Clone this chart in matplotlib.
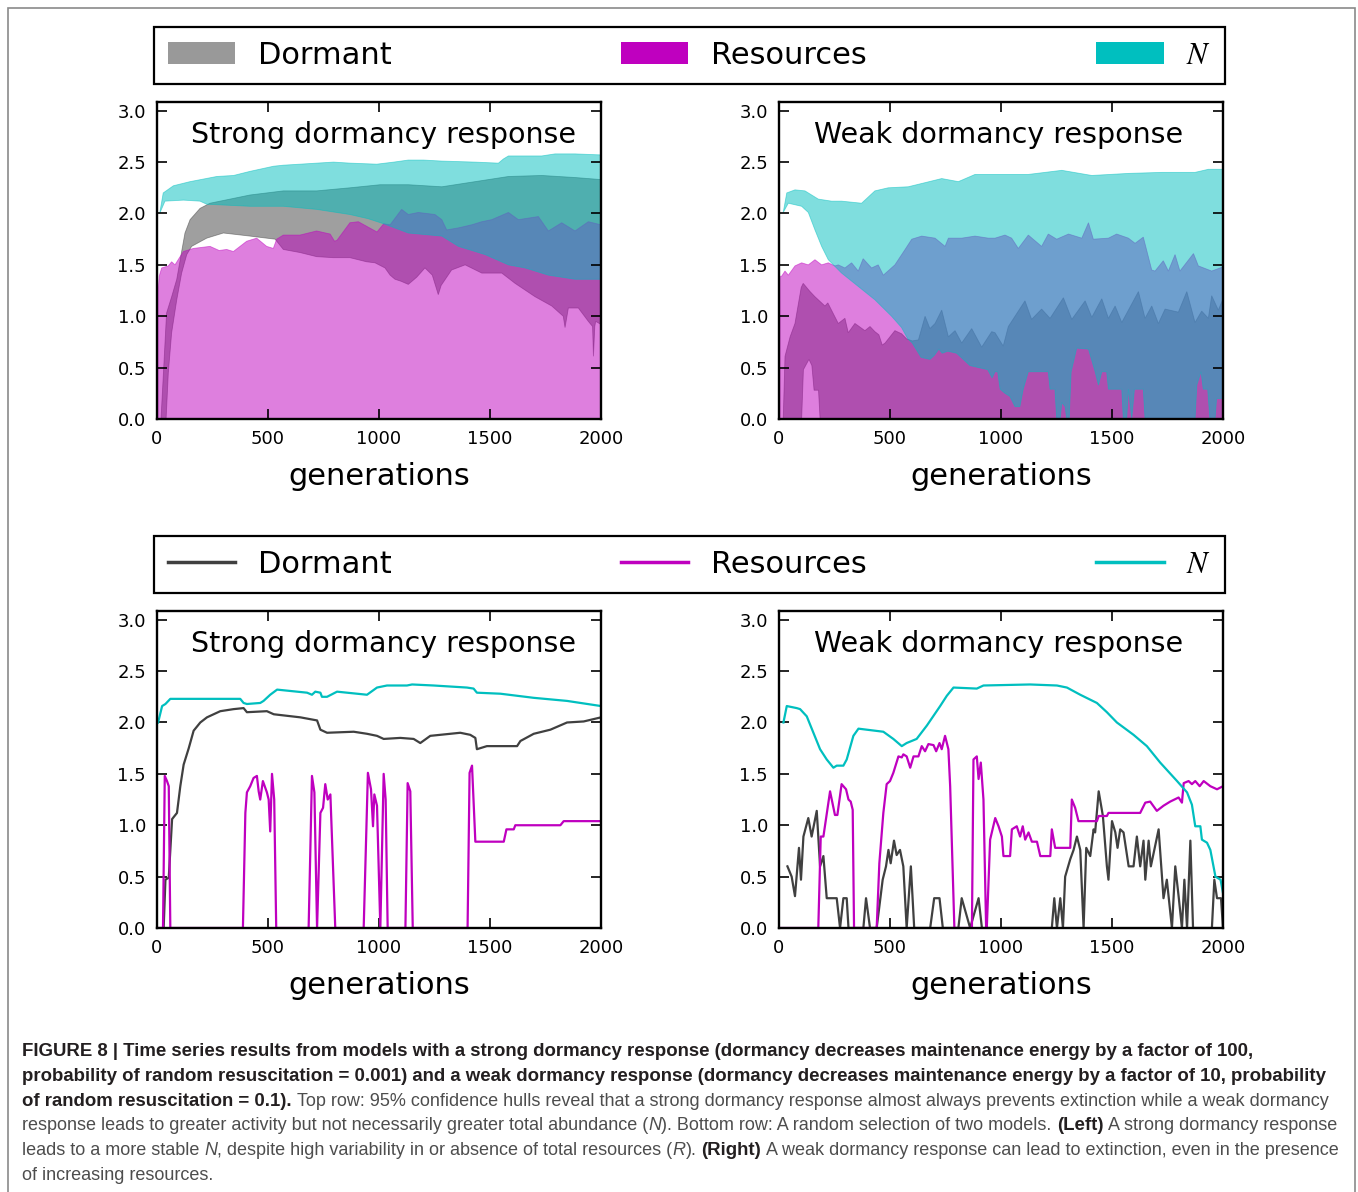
import matplotlib
matplotlib.use("Agg")
import matplotlib.pyplot as plt
from matplotlib.patches import Patch, Rectangle
from matplotlib.lines import Line2D
from matplotlib.ticker import FormatStrFormatter

plt.rcParams["font.family"] = "DejaVu Sans"
plt.rcParams["mathtext.fontset"] = "stix"

W, H = 1358, 1192

# ── Colours ───────────────────────────────────────────────────────────────────
DORM = (0.25, 0.25, 0.25)
RES = (0.75, 0.0, 0.75)
NCOL = (0.0, 0.75, 0.75)
CAP_DARK = "#231f20"
CAP_GREY = "#4d4d4d"

# ── Top row: 95% hulls, strong dormancy ───────────────────────────────────────
S_N_HI_X = [12, 28, 74, 149, 269, 345, 419, 525, 569, 645, 719, 795, 870, 990,
            1066, 1132, 1200, 1283, 1433, 1538, 1560, 1583, 1733, 1793, 1883, 2000]
S_N_HI_Y = [2.00, 2.20, 2.27, 2.31, 2.36, 2.37, 2.41, 2.46, 2.47, 2.48, 2.49, 2.50, 2.49, 2.48,
            2.50, 2.52, 2.52, 2.51, 2.50, 2.49, 2.53, 2.56, 2.56, 2.58, 2.58, 2.57]
S_N_LO_X = [12, 36, 119, 194, 224, 419, 569, 719, 869, 950, 1021, 1132, 1283, 1358,
            1478, 1583, 1658, 1763, 1883, 2000]
S_N_LO_Y = [2.00, 2.12, 2.13, 2.12, 2.09, 2.07, 2.07, 2.04, 1.99, 1.95, 1.90, 1.81, 1.78, 1.68,
            1.60, 1.50, 1.47, 1.40, 1.36, 1.36]
S_D_HI_X = [18, 29, 43, 66, 89, 111, 126, 149, 194, 239, 419, 569, 719, 869, 1005, 1132,
            1283, 1433, 1583, 1733, 1883, 2000]
S_D_HI_Y = [0.00, 0.45, 1.03, 1.19, 1.36, 1.63, 1.81, 1.94, 2.05, 2.10, 2.18, 2.22, 2.22, 2.25,
            2.28, 2.28, 2.26, 2.31, 2.36, 2.37, 2.35, 2.33]
S_D_LO_X = [41, 51, 66, 89, 111, 134, 156, 224, 299, 419, 532, 569, 644, 719, 794, 869, 944,
            982, 1027, 1050, 1072, 1100, 1132, 1170, 1207, 1240, 1260, 1267, 1280, 1327, 1388,
            1463, 1553, 1613, 1703, 1778, 1830, 1838, 1853, 1898, 1943, 1962, 1966, 1972, 1976, 2000]
S_D_LO_Y = [0.00, 0.45, 0.84, 1.16, 1.42, 1.60, 1.68, 1.76, 1.81, 1.78, 1.75, 1.65, 1.62, 1.58,
            1.57, 1.57, 1.53, 1.52, 1.47, 1.40, 1.36, 1.34, 1.31, 1.38, 1.47, 1.40, 1.26, 1.21,
            1.30, 1.45, 1.50, 1.42, 1.42, 1.32, 1.19, 1.10, 1.00, 0.89, 1.08, 1.08, 0.95, 0.90,
            0.61, 0.90, 0.95, 0.92]
S_R_HI_X = [5, 6, 10, 21, 51, 66, 81, 104, 119, 164, 239, 280, 314, 344, 404, 449, 494, 524,
            539, 569, 644, 719, 780, 800, 811, 869, 907, 991, 1021, 1050, 1102, 1132, 1177,
            1252, 1283, 1305, 1358, 1418, 1463, 1508, 1583, 1628, 1718, 1763, 1823, 1883, 1943, 2000]
S_R_HI_Y = [0.00, 1.27, 1.39, 1.47, 1.49, 1.53, 1.50, 1.58, 1.63, 1.66, 1.68, 1.64, 1.65, 1.63,
            1.73, 1.76, 1.68, 1.66, 1.75, 1.79, 1.79, 1.83, 1.80, 1.73, 1.74, 1.91, 1.92, 1.82,
            1.90, 1.89, 2.04, 1.99, 2.01, 1.99, 1.94, 1.84, 1.86, 1.89, 1.92, 1.94, 2.01, 1.94,
            1.97, 1.83, 1.91, 1.83, 1.92, 1.89]
S_R_LO_X = [5, 2000]
S_R_LO_Y = [0.00, 0.00]

# ── Top row: 95% hulls, weak dormancy ─────────────────────────────────────────
W_N_HI_X = [19, 35, 72, 117, 177, 237, 282, 372, 432, 492, 582, 658, 733, 808, 883, 1018,
            1123, 1274, 1409, 1574, 1724, 1874, 1934, 2000]
W_N_HI_Y = [2.01, 2.20, 2.23, 2.22, 2.14, 2.12, 2.12, 2.10, 2.22, 2.25, 2.26, 2.30, 2.34, 2.31,
            2.38, 2.38, 2.38, 2.42, 2.37, 2.39, 2.40, 2.40, 2.43, 2.43]
W_N_LO_X = [19, 42, 102, 132, 162, 192, 222, 282, 357, 432, 507, 552, 580, 600, 640, 680, 700,
            720, 735, 760, 800, 830, 860, 900, 940, 960, 973, 985, 996, 1018, 1040, 1063, 1085,
            1100, 1123, 1213, 1221, 1243, 1251, 1266, 1274, 1289, 1296, 1307, 1316, 1341, 1394,
            1424, 1439, 1454, 1476, 1484, 1544, 1551, 1566, 1574, 1589, 1601, 1641, 1649, 1874,
            1882, 1901, 1911, 1931, 1941, 1964, 1971, 2000]
W_N_LO_Y = [2.01, 2.10, 2.07, 2.01, 1.84, 1.68, 1.55, 1.42, 1.29, 1.16, 1.00, 0.89, 0.78, 0.74,
            0.60, 0.58, 0.62, 0.68, 0.64, 0.66, 0.64, 0.58, 0.52, 0.50, 0.48, 0.40, 0.46, 0.46,
            0.29, 0.25, 0.22, 0.12, 0.12, 0.29, 0.46, 0.46, 0.29, 0.29, 0.00, 0.00, 0.16, 0.12,
            0.00, 0.00, 0.46, 0.69, 0.68, 0.46, 0.33, 0.46, 0.46, 0.29, 0.29, 0.00, 0.00, 0.29,
            0.00, 0.29, 0.29, 0.00, 0.00, 0.33, 0.46, 0.29, 0.29, 0.00, 0.00, 0.20, 0.20]
W_D_HI_X = [19, 27, 50, 72, 100, 109, 140, 162, 207, 220, 267, 297, 312, 342, 387, 410, 432,
            450, 465, 478, 500, 522, 552, 575, 600, 628, 658, 680, 703, 733, 763, 793, 823, 868,
            913, 958, 973, 1010, 1033, 1078, 1108, 1138, 1183, 1221, 1281, 1319, 1379, 1409,
            1454, 1484, 1514, 1544, 1574, 1619, 1649, 1679, 1709, 1739, 1799, 1837, 1874, 1904,
            1934, 1949, 1979, 2000]
W_D_HI_Y = [0.00, 0.61, 0.80, 0.93, 1.28, 1.32, 1.24, 1.19, 1.10, 1.13, 0.93, 0.98, 0.84, 0.93,
            0.86, 0.90, 0.85, 0.82, 0.72, 0.74, 0.80, 0.86, 0.83, 0.78, 0.76, 0.77, 1.00, 0.88,
            0.93, 1.06, 0.80, 0.86, 0.74, 0.88, 0.70, 0.85, 0.84, 0.71, 0.90, 1.05, 1.15, 0.97,
            1.07, 0.98, 1.18, 0.97, 1.15, 0.99, 1.17, 0.98, 1.10, 0.94, 1.06, 1.24, 0.98, 1.10,
            0.93, 1.07, 1.04, 1.24, 0.94, 1.05, 0.98, 1.20, 1.06, 1.17]
W_D_LO_X = [19, 102, 110, 135, 148, 158, 178, 185, 2000]
W_D_LO_Y = [0.00, 0.00, 0.48, 0.58, 0.52, 0.28, 0.28, 0.00, 0.00]
W_R_HI_X = [5, 7, 12, 27, 42, 72, 102, 132, 162, 192, 222, 252, 267, 297, 327, 357, 379, 417,
            447, 470, 522, 568, 598, 643, 703, 748, 763, 823, 883, 943, 973, 1018, 1048, 1078,
            1123, 1183, 1213, 1251, 1304, 1364, 1394, 1416, 1484, 1521, 1574, 1604, 1641, 1679,
            1694, 1731, 1754, 1784, 1806, 1867, 1889, 1949, 2000]
W_R_HI_Y = [0.00, 1.39, 1.39, 1.44, 1.40, 1.49, 1.52, 1.50, 1.55, 1.50, 1.52, 1.49, 1.50, 1.47,
            1.52, 1.44, 1.56, 1.47, 1.50, 1.40, 1.50, 1.65, 1.75, 1.78, 1.76, 1.68, 1.76, 1.76,
            1.78, 1.76, 1.76, 1.79, 1.76, 1.66, 1.79, 1.68, 1.80, 1.75, 1.80, 1.76, 1.91, 1.75,
            1.76, 1.80, 1.76, 1.71, 1.77, 1.45, 1.44, 1.54, 1.44, 1.60, 1.44, 1.61, 1.49, 1.44, 1.48]
W_R_LO_X = [5, 2000]
W_R_LO_Y = [0.00, 0.00]

# ── Bottom row: one random model each ─────────────────────────────────────────
SL_N_X = [5, 23, 38, 60, 195, 375, 390, 405, 465, 480, 510, 541, 586, 676, 698, 713, 736, 743,
          766, 811, 946, 991, 1036, 1126, 1149, 1246, 1396, 1426, 1441, 1547, 1697, 1847, 2000]
SL_N_Y = [2.00, 2.16, 2.18, 2.23, 2.23, 2.23, 2.19, 2.18, 2.19, 2.21, 2.27, 2.32, 2.31, 2.29,
          2.27, 2.30, 2.29, 2.25, 2.25, 2.30, 2.27, 2.34, 2.36, 2.36, 2.37, 2.36, 2.34, 2.33,
          2.29, 2.28, 2.24, 2.21, 2.16]
SL_D_X = [30, 38, 53, 68, 90, 105, 120, 143, 165, 195, 225, 285, 345, 390, 405, 495, 526, 646,
          721, 736, 766, 886, 946, 991, 1021, 1096, 1156, 1186, 1231, 1321, 1366, 1411, 1434,
          1441, 1486, 1547, 1622, 1637, 1697, 1772, 1847, 1922, 2000]
SL_D_Y = [0.00, 0.47, 0.49, 1.06, 1.12, 1.38, 1.59, 1.75, 1.92, 2.00, 2.05, 2.11, 2.13, 2.14,
          2.10, 2.11, 2.08, 2.05, 2.02, 1.93, 1.90, 1.91, 1.89, 1.87, 1.84, 1.85, 1.84, 1.80,
          1.87, 1.89, 1.90, 1.88, 1.85, 1.74, 1.77, 1.77, 1.77, 1.82, 1.89, 1.93, 2.00, 2.01, 2.05]
SL_R_X = [0, 27, 35, 45, 53, 60, 387, 398, 405, 420, 435, 450, 458, 465, 477, 495, 503, 510,
          518, 528, 537, 683, 698, 709, 721, 736, 748, 758, 769, 781, 803, 931, 950, 964, 973,
          979, 991, 1006, 1021, 1030, 1039, 1119, 1129, 1141, 1152, 1399, 1408, 1419, 1434,
          1562, 1574, 1607, 1614, 1817, 1832, 2000]
SL_R_Y = [0.00, 0.00, 1.48, 1.43, 1.38, 0.00, 0.00, 1.12, 1.32, 1.38, 1.46, 1.48, 1.33, 1.25,
          1.43, 1.32, 1.25, 0.94, 1.50, 1.25, 0.00, 0.00, 1.48, 1.32, 0.00, 1.12, 1.17, 1.40,
          1.25, 1.30, 0.00, 0.00, 1.51, 1.35, 0.99, 1.30, 1.19, 0.00, 1.50, 1.25, 0.00, 0.00,
          1.41, 1.33, 0.00, 0.00, 1.51, 1.58, 0.84, 0.84, 0.96, 0.96, 1.00, 1.00, 1.04, 1.04]

WR_N_X = [20, 35, 80, 95, 125, 155, 185, 215, 245, 260, 290, 305, 335, 358, 395, 470, 515, 553,
          575, 620, 666, 726, 756, 786, 891, 921, 1131, 1252, 1297, 1357, 1432, 1477, 1522,
          1597, 1657, 1717, 1793, 1838, 1860, 1875, 1898, 1905, 1928, 1943, 1966, 1989, 2000]
WR_N_Y = [2.00, 2.16, 2.14, 2.13, 2.06, 1.90, 1.74, 1.64, 1.56, 1.58, 1.58, 1.64, 1.87, 1.94,
          1.93, 1.91, 1.84, 1.77, 1.80, 1.84, 1.97, 2.16, 2.26, 2.34, 2.33, 2.36, 2.37, 2.36,
          2.34, 2.27, 2.19, 2.10, 2.00, 1.88, 1.77, 1.61, 1.43, 1.32, 1.20, 0.99, 0.99, 0.86,
          0.83, 0.76, 0.50, 0.47, 0.34]
WR_D_X = [38, 57, 72, 90, 99, 110, 132, 147, 170, 185, 200, 215, 260, 275, 290, 305, 313, 380,
          392, 410, 440, 467, 482, 493, 503, 518, 530, 545, 560, 575, 594, 609, 681, 699, 723,
          738, 808, 823, 861, 899, 914, 1229, 1240, 1252, 1267, 1279, 1289, 1312, 1327, 1342,
          1357, 1372, 1384, 1402, 1417, 1424, 1440, 1459, 1477, 1484, 1500, 1515, 1525, 1537,
          1552, 1575, 1597, 1612, 1627, 1642, 1650, 1665, 1675, 1710, 1732, 1747, 1770, 1785,
          1800, 1815, 1826, 1838, 1853, 1865, 1950, 1961, 1973, 1991, 2000]
WR_D_Y = [0.60, 0.50, 0.31, 0.78, 0.47, 0.89, 1.07, 0.89, 1.14, 0.60, 0.70, 0.29, 0.29, 0.00,
          0.29, 0.29, 0.00, 0.00, 0.29, 0.00, 0.00, 0.47, 0.60, 0.76, 0.63, 0.85, 0.71, 0.76,
          0.60, 0.00, 0.60, 0.00, 0.00, 0.29, 0.29, 0.00, 0.00, 0.29, 0.00, 0.29, 0.00, 0.00,
          0.29, 0.00, 0.29, 0.00, 0.50, 0.67, 0.76, 0.89, 0.76, 0.00, 0.78, 0.70, 0.96, 0.93,
          1.33, 1.09, 0.60, 0.47, 1.04, 0.93, 0.78, 0.96, 0.93, 0.60, 0.60, 0.89, 0.60, 0.85,
          0.47, 0.85, 0.60, 0.96, 0.29, 0.47, 0.00, 0.60, 0.31, 0.00, 0.47, 0.00, 0.85, 0.00,
          0.00, 0.47, 0.29, 0.29, 0.00]
WR_R_X = [0, 177, 188, 200, 230, 252, 263, 282, 302, 313, 323, 332, 338, 440, 452, 470, 485,
          500, 515, 538, 553, 560, 575, 591, 606, 628, 643, 658, 673, 696, 708, 723, 733, 748,
          763, 771, 790, 869, 876, 891, 899, 909, 921, 933, 936, 951, 974, 989, 1004, 1011,
          1041, 1049, 1071, 1086, 1098, 1109, 1124, 1139, 1162, 1177, 1222, 1229, 1244, 1312,
          1319, 1334, 1349, 1432, 1440, 1477, 1484, 1627, 1650, 1672, 1702, 1732, 1762, 1800,
          1815, 1823, 1845, 1860, 1875, 1895, 1913, 1943, 1973, 2000]
WR_R_Y = [0.00, 0.00, 0.89, 0.89, 1.33, 1.10, 1.10, 1.40, 1.35, 1.25, 1.23, 1.15, 0.00, 0.00,
          0.63, 1.12, 1.40, 1.43, 1.51, 1.67, 1.66, 1.69, 1.67, 1.56, 1.67, 1.67, 1.77, 1.72,
          1.79, 1.78, 1.72, 1.80, 1.74, 1.87, 1.74, 1.38, 0.00, 0.00, 1.64, 1.67, 1.45, 1.61,
          1.25, 0.00, 0.00, 0.86, 1.07, 0.99, 0.89, 0.70, 0.70, 0.96, 0.99, 0.89, 0.99, 0.86,
          0.93, 0.84, 0.84, 0.70, 0.70, 0.96, 0.78, 0.78, 1.25, 1.17, 1.04, 1.04, 1.09, 1.09,
          1.12, 1.12, 1.22, 1.23, 1.14, 1.19, 1.23, 1.27, 1.22, 1.41, 1.43, 1.40, 1.43, 1.38,
          1.43, 1.38, 1.35, 1.38]

LEGEND_LABELS = ["Dormant", "Resources", "$N$"]
X_TICKS = [0, 500, 1000, 1500, 2000]
Y_TICKS = [0.0, 0.5, 1.0, 1.5, 2.0, 2.5, 3.0]

# ── Caption: list of lines, each a list of (text, style) ──────────────────────
CAPTION = [
    [("FIGURE 8 | Time series results from models with a strong dormancy response "
      "(dormancy decreases maintenance energy by a factor of 100,", "b")],
    [("probability of random resuscitation = 0.001) and a weak dormancy response "
      "(dormancy decreases maintenance energy by a factor of 10, probability", "b")],
    [("of random resuscitation = 0.1).", "b"),
     (" Top row: 95% confidence hulls reveal that a strong dormancy response almost always "
      "prevents extinction while a weak dormancy", "r")],
    [("response leads to greater activity but not necessarily greater total abundance (", "r"),
     ("N", "i"), ("). Bottom row: A random selection of two models. ", "r"),
     ("(Left)", "b"), (" A strong dormancy response", "r")],
    [("leads to a more stable ", "r"), ("N", "i"),
     (", despite high variability in or absence of total resources (", "r"), ("R", "i"),
     ("). ", "r"), ("(Right)", "b"),
     (" A weak dormancy response can lead to extinction, even in the presence", "r")],
    [("of increasing resources.", "r")],
]
CAP_STYLE = {
    "b": dict(fontweight="bold", color=CAP_DARK),
    "r": dict(color=CAP_GREY),
    "i": dict(fontstyle="italic", color=CAP_GREY),
}

# ── Layout (pixels of the 1358x1192 canvas) ───────────────────────────────────
AX_W, AX_H = 444, 317
COL_X = [157, 779]
ROW_BOTTOM = [419, 928]
LEG_TOP = [27, 536]


def axes_at(fig, left_px, bottom_px):
    return fig.add_axes([left_px / W, (H - bottom_px) / H, AX_W / W, AX_H / H])


def style_axes(ax, title, tx):
    ax.set_xlim(0, 2000)
    ax.set_ylim(0, 3.085)
    ax.set_xticks(X_TICKS)
    ax.set_yticks(Y_TICKS)
    ax.yaxis.set_major_formatter(FormatStrFormatter("%.1f"))
    ax.tick_params(direction="in", top=True, right=True, length=7, width=1.2,
                   labelsize=13, pad=8)
    for sp in ax.spines.values():
        sp.set_linewidth(1.7)
    ax.set_xlabel("generations", fontsize=22, labelpad=10)
    ax.text(tx, 0.895, title, transform=ax.transAxes, ha="center", va="center",
            fontsize=20.5)


def hull(ax, xh, yh, xl, yl, color):
    xs = list(xh) + list(xl)[::-1]
    ys = list(yh) + list(yl)[::-1]
    ax.fill(xs, ys, facecolor=color, edgecolor=color, alpha=0.5, lw=0.6, zorder=1)


def legend_box(fig, handles, top_px):
    h = 55 / H
    leg = fig.legend(handles, LEGEND_LABELS, loc="upper left",
                     bbox_to_anchor=(154 / W, 1 - top_px / H - h, 1071 / W, h),
                     ncol=3, mode="expand", borderaxespad=0, fontsize=22,
                     fancybox=False, framealpha=1, handlelength=2.2,
                     handletextpad=0.75, borderpad=0.45)
    fr = leg.get_frame()
    fr.set_edgecolor("black")
    fr.set_linewidth(1.6)


def caption(fig):
    r = fig.canvas.get_renderer()

    def width(s, st, size):
        t = fig.text(0, 0, s, fontsize=size, family="Liberation Sans", **CAP_STYLE[st])
        w = t.get_window_extent(r).width
        t.remove()
        return w

    def line_width(segs, sizes):
        total = 0.0
        for txt, st in segs:
            sp = width("x x", st, sizes[st]) - width("xx", st, sizes[st])
            n_sp = (len(txt) - len(txt.lstrip(" "))) + (len(txt) - len(txt.rstrip(" ")))
            total += width(txt.strip(" "), st, sizes[st]) + n_sp * sp
        return total

    # bold text: the second line spans 22 → 1332 px
    size_b = 11 * 1310 / width(CAPTION[1][0][0], "b", 11)
    # lighter (narrower) running text: the fourth line spans 22 → 1340 px
    w10 = line_width(CAPTION[3], {"b": size_b, "r": 10, "i": 10})
    w12 = line_width(CAPTION[3], {"b": size_b, "r": 12, "i": 12})
    size_r = 10 + 2 * (1318 - w10) / (w12 - w10)
    sizes = {"b": size_b, "r": size_r, "i": size_r}
    space = {st: width("x x", st, sizes[st]) - width("xx", st, sizes[st]) for st in CAP_STYLE}

    for i, segs in enumerate(CAPTION):
        base = 1056 + 24.8 * i
        x = 22.0
        for txt, st in segs:
            lead = len(txt) - len(txt.lstrip(" "))
            trail = len(txt) - len(txt.rstrip(" "))
            x += lead * space[st]
            t = fig.text(x / W, 1 - base / H, txt.strip(" "), fontsize=sizes[st],
                         family="Liberation Sans", va="baseline", ha="left",
                         **CAP_STYLE[st])
            x += t.get_window_extent(r).width + trail * space[st]


def main():
    fig = plt.figure(figsize=(W / 100, H / 100), dpi=100)
    fig.patch.set_facecolor("white")

    # outer frame of the figure page
    fig.add_artist(Rectangle((7.5 / W, -0.01), (1355 - 7.5) / W, 1.01 - 8 / H,
                             transform=fig.transFigure, fill=False,
                             edgecolor="#8a8a8a", lw=1.2))

    # ── Top row: hulls ────────────────────────────────────────────────────────
    ax = axes_at(fig, COL_X[0], ROW_BOTTOM[0])
    hull(ax, S_D_HI_X, S_D_HI_Y, S_D_LO_X, S_D_LO_Y, DORM)
    hull(ax, S_R_HI_X, S_R_HI_Y, S_R_LO_X, S_R_LO_Y, RES)
    hull(ax, S_N_HI_X, S_N_HI_Y, S_N_LO_X, S_N_LO_Y, NCOL)
    style_axes(ax, "Strong dormancy response", 0.511)

    ax = axes_at(fig, COL_X[1], ROW_BOTTOM[0])
    hull(ax, W_D_HI_X, W_D_HI_Y, W_D_LO_X, W_D_LO_Y, DORM)
    hull(ax, W_R_HI_X, W_R_HI_Y, W_R_LO_X, W_R_LO_Y, RES)
    hull(ax, W_N_HI_X, W_N_HI_Y, W_N_LO_X, W_N_LO_Y, NCOL)
    style_axes(ax, "Weak dormancy response", 0.495)

    legend_box(fig, [Patch(facecolor="#999999", edgecolor="none"),
                     Patch(facecolor="#bf00bf", edgecolor="none"),
                     Patch(facecolor="#00bfbf", edgecolor="none")], LEG_TOP[0])

    # ── Bottom row: single runs ───────────────────────────────────────────────
    ax = axes_at(fig, COL_X[0], ROW_BOTTOM[1])
    ax.plot(SL_D_X, SL_D_Y, color=DORM, lw=1.6)
    ax.plot(SL_R_X, SL_R_Y, color=RES, lw=1.6)
    ax.plot(SL_N_X, SL_N_Y, color=NCOL, lw=1.6)
    style_axes(ax, "Strong dormancy response", 0.511)

    ax = axes_at(fig, COL_X[1], ROW_BOTTOM[1])
    ax.plot(WR_D_X, WR_D_Y, color=DORM, lw=1.6)
    ax.plot(WR_R_X, WR_R_Y, color=RES, lw=1.6)
    ax.plot(WR_N_X, WR_N_Y, color=NCOL, lw=1.6)
    style_axes(ax, "Weak dormancy response", 0.495)

    legend_box(fig, [Line2D([], [], color=DORM, lw=2.5),
                     Line2D([], [], color=RES, lw=2.5),
                     Line2D([], [], color=NCOL, lw=2.5)], LEG_TOP[1])

    caption(fig)

    fig.savefig("out.png", dpi=100, facecolor="white")


if __name__ == "__main__":
    main()
